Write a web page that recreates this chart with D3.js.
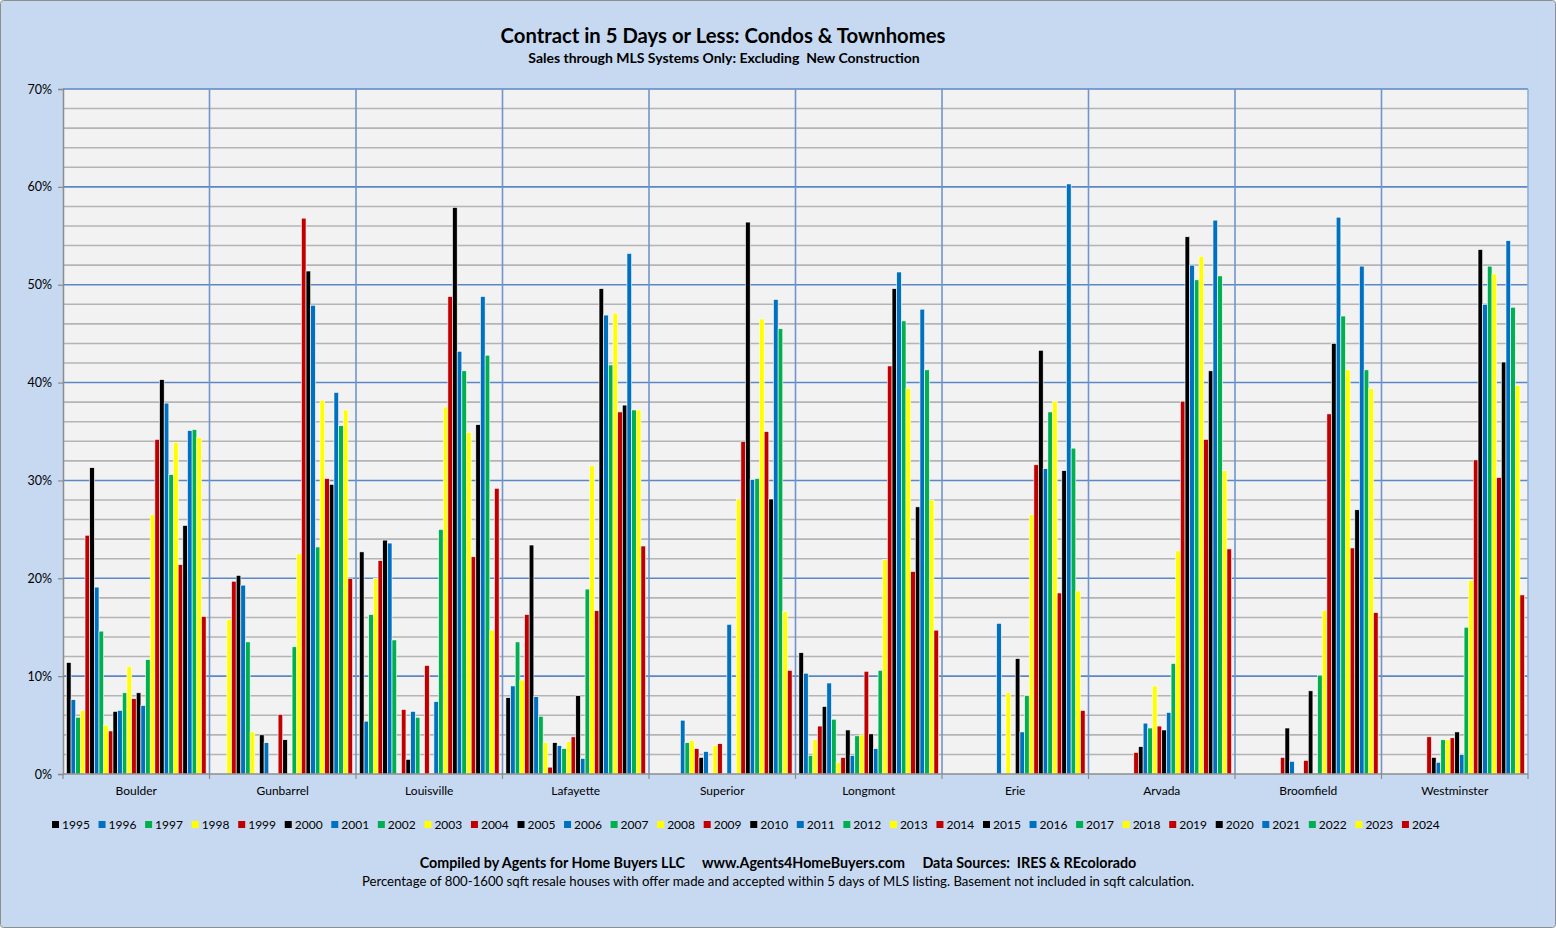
<!DOCTYPE html>
<html>
<head>
<meta charset="utf-8">
<script src="https://cdn.jsdelivr.net/npm/d3@7"></script>
<style>
  body { margin: 0; background: #fff; }
  text { font-family: Lato, "Open Sans", sans-serif; }
</style>
</head>
<body>
<svg id="main_svg" width="1556" height="928"></svg>
<script>
// data (percent)
const cities = ["Boulder", "Gunbarrel", "Louisville", "Lafayette", "Superior",
  "Longmont", "Erie", "Arvada", "Broomfield", "Westminster"]
const years = d3.range(1995, 2025)
const colors = ["#000000", "#0070c0", "#00b050", "#ffff00", "#c00000"]
const y_ticks = [0, 10, 20, 30, 40, 50, 60, 70]

const boulder = [11.4,7.6,5.8,6.5,24.4,31.3,19.1,14.6,5.0,4.4,6.4,6.5,8.3,11.0,7.7,8.3,7.0,11.7,26.5,34.2,40.3,37.9,30.6,33.9,21.4,25.4,35.1,35.2,34.4,16.1]
const gunbarrel = [0,0,0,15.8,19.7,20.3,19.3,13.5,4.3,0,4.0,3.2,0,0,6.1,3.5,0,13.0,22.5,56.8,51.4,47.9,23.2,38.2,30.2,29.6,39.0,35.6,37.2,20.0]
const louisville = [22.7,5.4,16.3,20.0,21.8,23.9,23.6,13.7,0,6.6,1.5,6.4,5.8,0,11.1,0,7.4,25.0,37.5,48.8,57.9,43.2,41.2,34.9,22.2,35.7,48.8,42.8,14.7,29.2]
const lafayette = [7.8,9.0,13.5,9.6,16.3,23.4,7.9,5.9,3.2,0.7,3.2,2.9,2.6,3.3,3.8,8.0,1.6,18.9,31.5,16.7,49.6,46.9,41.8,47.1,37.0,37.7,53.2,37.2,37.2,23.3]
const superior = [0,0,0,0,0,0,5.5,3.2,3.4,2.6,1.7,2.3,0,2.9,3.1,0,15.3,0,28.1,34.0,56.4,30.1,30.2,46.5,35.0,28.1,48.5,45.5,16.6,10.6]
const longmont = [12.4,10.3,1.9,3.5,4.9,6.9,9.3,5.6,1.2,1.7,4.5,1.9,3.9,4.0,10.5,4.1,2.6,10.6,21.9,41.7,49.6,51.3,46.3,39.4,20.7,27.3,47.5,41.3,28.0,14.7]
const erie = [0,0,0,0,0,0,0,0,0,0,0,15.4,0,8.3,0,11.8,4.3,8.0,26.5,31.6,43.3,31.2,37.0,38.1,18.5,31.0,60.3,33.3,18.7,6.5]
const arvada = [0,0,0,0,0,0,0,0,0,2.2,2.8,5.2,4.7,9.0,4.9,4.5,6.3,11.3,22.8,38.1,54.9,52.0,50.5,52.9,34.2,41.2,56.6,50.9,31.0,23.0]
const broomfield = [0,0,0,0,0,0,0,0,0,1.7,4.7,1.3,0,0,1.4,8.5,0,10.1,16.7,36.8,44.0,56.9,46.8,41.3,23.1,27.0,51.9,41.3,39.4,16.5]
const westminster = [0,0,0,0,0,0,0,0,0,3.8,1.7,1.2,3.5,3.5,3.7,4.3,2.0,15.0,19.8,32.1,53.6,48.0,51.9,51.1,30.3,42.1,54.5,47.7,39.7,18.3]

const city_values = [boulder, gunbarrel, louisville, lafayette, superior,
  longmont, erie, arvada, broomfield, westminster]

const svg = d3.select("#main_svg")
const plot_left = 63, plot_right = 1528, plot_top = 89, plot_bottom = 774

// chart background
svg.append("rect")
    .attr("x", 0.5).attr("y", 0.5)
    .attr("width", 1555).attr("height", 927)
    .attr("rx", 3)
    .attr("fill", "#c6d9f1")
    .attr("stroke", "#8e8e8e")

svg.append("rect")
    .attr("x", plot_left).attr("y", plot_top)
    .attr("width", plot_right - plot_left).attr("height", plot_bottom - plot_top)
    .attr("fill", "#f2f2f2")

const x = d3.scaleBand().domain(cities).range([plot_left, plot_right]).padding(0)
const xi = d3.scaleBand().domain(years).range([3.4, x.bandwidth() - 3.4]).padding(0)
const y = d3.scaleLinear().domain([0, 70]).range([plot_bottom, plot_top])

// minor grid every 2%
svg.append("g")
    .selectAll("line")
    .data(d3.range(2, 70, 2).filter(d => d % 10 != 0))
    .join("line")
    .attr("x1", plot_left).attr("x2", plot_right)
    .attr("y1", d => y(d)).attr("y2", d => y(d))
    .attr("stroke", "#b4b4b4")
    .attr("stroke-width", 1.6)

// major grid
svg.append("g")
    .selectAll("line")
    .data(y_ticks.filter(d => d > 0))
    .join("line")
    .attr("x1", plot_left).attr("x2", plot_right)
    .attr("y1", d => y(d)).attr("y2", d => y(d))
    .attr("stroke", "#5b87c5")
    .attr("stroke-width", 1.6)

// category separators
svg.append("g")
    .selectAll("line")
    .data(d3.range(1, cities.length + 1))
    .join("line")
    .attr("x1", i => plot_left + i * x.bandwidth())
    .attr("x2", i => plot_left + i * x.bandwidth())
    .attr("y1", plot_top).attr("y2", plot_bottom)
    .attr("stroke", i => i < cities.length ? "#6f95cc" : "#8fb0dc")
    .attr("stroke-width", 1.6)

// bars
const groups = svg.append("g")
    .selectAll("g")
    .data(cities)
    .join("g")
    .attr("transform", d => "translate(" + x(d) + ",0)")

groups.selectAll("rect")
    .data((d, i) => city_values[i].map((v, j) => ({ year: years[j], v: v, k: j })).filter(b => b.v > 0))
    .join("rect")
    .attr("x", b => xi(b.year))
    .attr("width", xi.bandwidth())
    .attr("y", b => y(b.v))
    .attr("height", b => plot_bottom - y(b.v))
    .attr("fill", b => colors[b.k % 5])
    .attr("stroke", "#ffffff")
    .attr("stroke-width", 0.6)

// y axis
const yAxis = svg.append("g")
    .attr("transform", "translate(" + plot_left + ",0)")
    .call(d3.axisLeft(y).tickValues(y_ticks).tickFormat(d => d + "%").tickSize(5).tickPadding(6))
yAxis.select(".domain").attr("stroke", "#8c8c8c").attr("stroke-width", 1.5)
yAxis.selectAll(".tick line").attr("stroke", "#8c8c8c").attr("stroke-width", 1.2)
yAxis.selectAll(".tick text").attr("font-size", 12.5).attr("fill", "#000")
    .style("font-family", "Lato, 'Open Sans', sans-serif")

// x axis line with ticks at category boundaries
svg.append("line")
    .attr("x1", plot_left).attr("x2", plot_right)
    .attr("y1", plot_bottom).attr("y2", plot_bottom)
    .attr("stroke", "#8c8c8c").attr("stroke-width", 1.5)
svg.append("g")
    .selectAll("line")
    .data(d3.range(cities.length + 1))
    .join("line")
    .attr("x1", i => plot_left + i * x.bandwidth()).attr("x2", i => plot_left + i * x.bandwidth())
    .attr("y1", plot_bottom).attr("y2", plot_bottom + 5)
    .attr("stroke", "#8c8c8c").attr("stroke-width", 1.2)

svg.append("g")
    .selectAll("text")
    .data(cities)
    .join("text")
    .attr("x", d => x(d) + x.bandwidth() / 2)
    .attr("y", 795)
    .attr("text-anchor", "middle")
    .attr("font-size", 12)
    .attr("fill", "#000")
    .text(d => d)

// legend
const legend = svg.append("g")
    .selectAll("g")
    .data(years)
    .join("g")
    .attr("transform", (d, i) => "translate(" + (52 + i * 46.55) + ",825)")
legend.append("rect")
    .attr("x", 0).attr("y", -4)
    .attr("width", 7).attr("height", 7)
    .attr("fill", (d, i) => colors[i % 5])
legend.append("text")
    .attr("x", 10).attr("y", 4)
    .attr("font-size", 12)
    .attr("fill", "#000")
    .text(d => d)

// titles
svg.append("text")
    .attr("x", 723).attr("y", 43)
    .attr("text-anchor", "middle")
    .attr("font-size", 20.3).attr("font-weight", "bold")
    .text("Contract in 5 Days or Less: Condos & Townhomes")
svg.append("text")
    .attr("x", 724).attr("y", 63)
    .attr("text-anchor", "middle")
    .attr("font-size", 14).attr("font-weight", "bold")
    .style("white-space", "pre")
    .text("Sales through MLS Systems Only: Excluding  New Construction")

svg.append("text")
    .attr("x", 778).attr("y", 868)
    .attr("text-anchor", "middle")
    .attr("font-size", 14.3).attr("font-weight", "bold")
    .style("white-space", "pre")
    .text("Compiled by Agents for Home Buyers LLC     www.Agents4HomeBuyers.com     Data Sources:  IRES & REcolorado")
svg.append("text")
    .attr("x", 778).attr("y", 886)
    .attr("text-anchor", "middle")
    .attr("font-size", 13.2)
    .text("Percentage of 800-1600 sqft resale houses with offer made and accepted within 5 days of MLS listing. Basement not included in sqft calculation.")
</script>
</body>
</html>
